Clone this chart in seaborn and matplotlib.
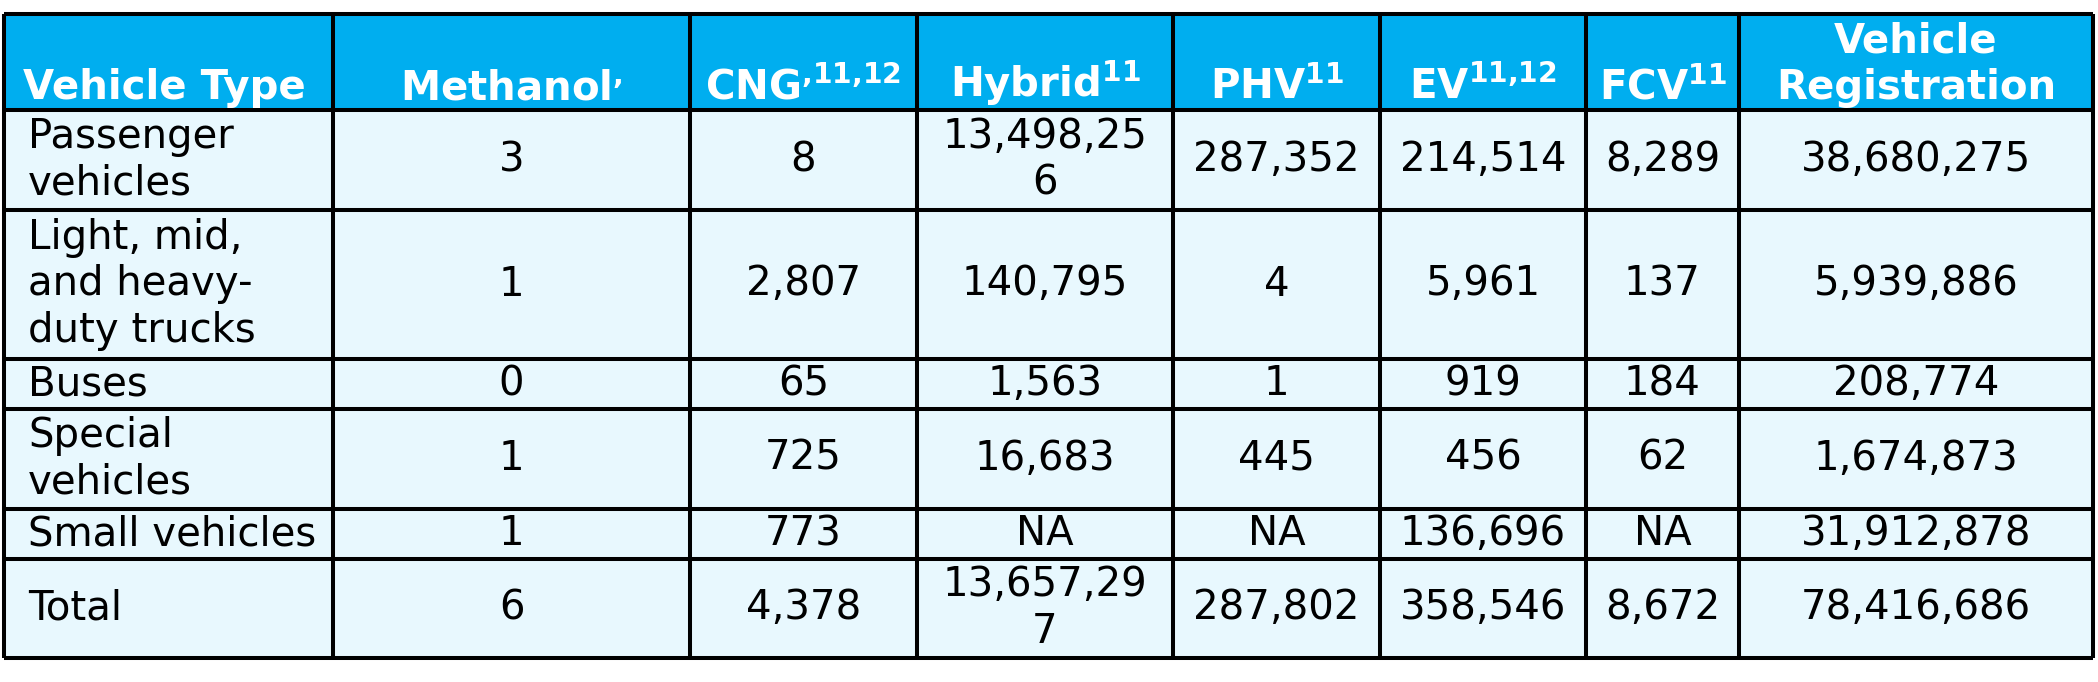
import numpy as np
import pandas as pd
import matplotlib
matplotlib.use('Agg')
import matplotlib.pyplot as plt
from matplotlib.colors import ListedColormap
import seaborn as sns

#%% DATA
headers = ['Vehicle Type', 'Methanol', 'CNG', 'Hybrid', 'PHV', 'EV', 'FCV', 'Vehicle\nRegistration']
header_notes = ['', ',', ',11,12', '11', '11', '11,12', '11', '']
vehicle_types = ['Passenger\nvehicles', 'Light, mid,\nand heavy-\nduty trucks', 'Buses',
                 'Special\nvehicles', 'Small vehicles', 'Total']
methanol = [3, 1, 0, 1, 1, 6]
cng = [8, 2807, 65, 725, 773, 4378]
hybrid = [13498256, 140795, 1563, 16683, None, 13657297]
phv = [287352, 4, 1, 445, None, 287802]
ev = [214514, 5961, 919, 456, 136696, 358546]
fcv = [8289, 137, 184, 62, None, 8672]
registration = [38680275, 5939886, 208774, 1674873, 31912878, 78416686]

df = pd.DataFrame({'Vehicle Type': vehicle_types, 'Methanol': methanol, 'CNG': cng,
                   'Hybrid': hybrid, 'PHV': phv, 'EV': ev, 'FCV': fcv,
                   'Vehicle Registration': registration})

#%% LAYOUT (pixels)
col_edges = [4, 333, 690, 917, 1173, 1380, 1586, 1739, 2093]
row_edges = [14, 110, 210, 359, 409, 509, 559, 658]
header_blue = '#00AEEF'
body_blue = '#E8F8FE'
fs = 29

sns.set_theme(style='white')
plt.rcParams['font.family'] = ['DejaVu Sans']
plt.rcParams['mathtext.fontset'] = 'dejavusans'

fig = plt.figure(figsize=(20.98, 6.82), dpi=100)
ax = fig.add_axes([0, 0, 1, 1])
ax.set_xlim(0, 2098)
ax.set_ylim(682, 0)
ax.axis('off')

# cell backgrounds
fill = np.zeros((len(row_edges) - 1, len(col_edges) - 1))
fill[0, :] = 1
ax.pcolormesh(col_edges, row_edges, fill, cmap=ListedColormap([body_blue, header_blue]),
              vmin=0, vmax=1)

# grid lines
ax.hlines(row_edges, col_edges[0], col_edges[-1], color='black', lw=2.9)
ax.vlines(col_edges, row_edges[0], row_edges[-1], color='black', lw=2.9)

# header (footnote marks as superscripts, commas unspaced)
for j, (h, note) in enumerate(zip(headers, header_notes)):
    label = h
    if note:
        label += r'$^{\mathbf{' + note.replace(',', '{,}') + '}}$'
    if j == 0:
        x, ha = col_edges[0] + 19, 'left'
    else:
        x, ha = (col_edges[j] + col_edges[j + 1]) / 2, 'center'
    ax.text(x, row_edges[1] - 2, label, ha=ha, va='bottom', color='white',
            fontsize=fs, fontweight='bold', multialignment='center')


def fmt(v):
    return 'NA' if v is None or pd.isna(v) else f'{int(v):,}'


def wrap(s, n):
    return '\n'.join(s[i:i + n] for i in range(0, len(s), n))


# body
for i in range(len(df)):
    yc = (row_edges[i + 1] + row_edges[i + 2]) / 2
    ax.text(col_edges[0] + 24, yc, df.iloc[i, 0], ha='left', va='center',
            fontsize=fs, color='black')
    for j in range(1, df.shape[1]):
        w = col_edges[j + 1] - col_edges[j]
        nmax = int((w - 30) / 24)
        s = wrap(fmt(df.iloc[i, j]), nmax)
        ax.text((col_edges[j] + col_edges[j + 1]) / 2, yc, s, ha='center', va='center',
                fontsize=fs, color='black', multialignment='center')

fig.savefig('out.png', dpi=100, facecolor='white')
